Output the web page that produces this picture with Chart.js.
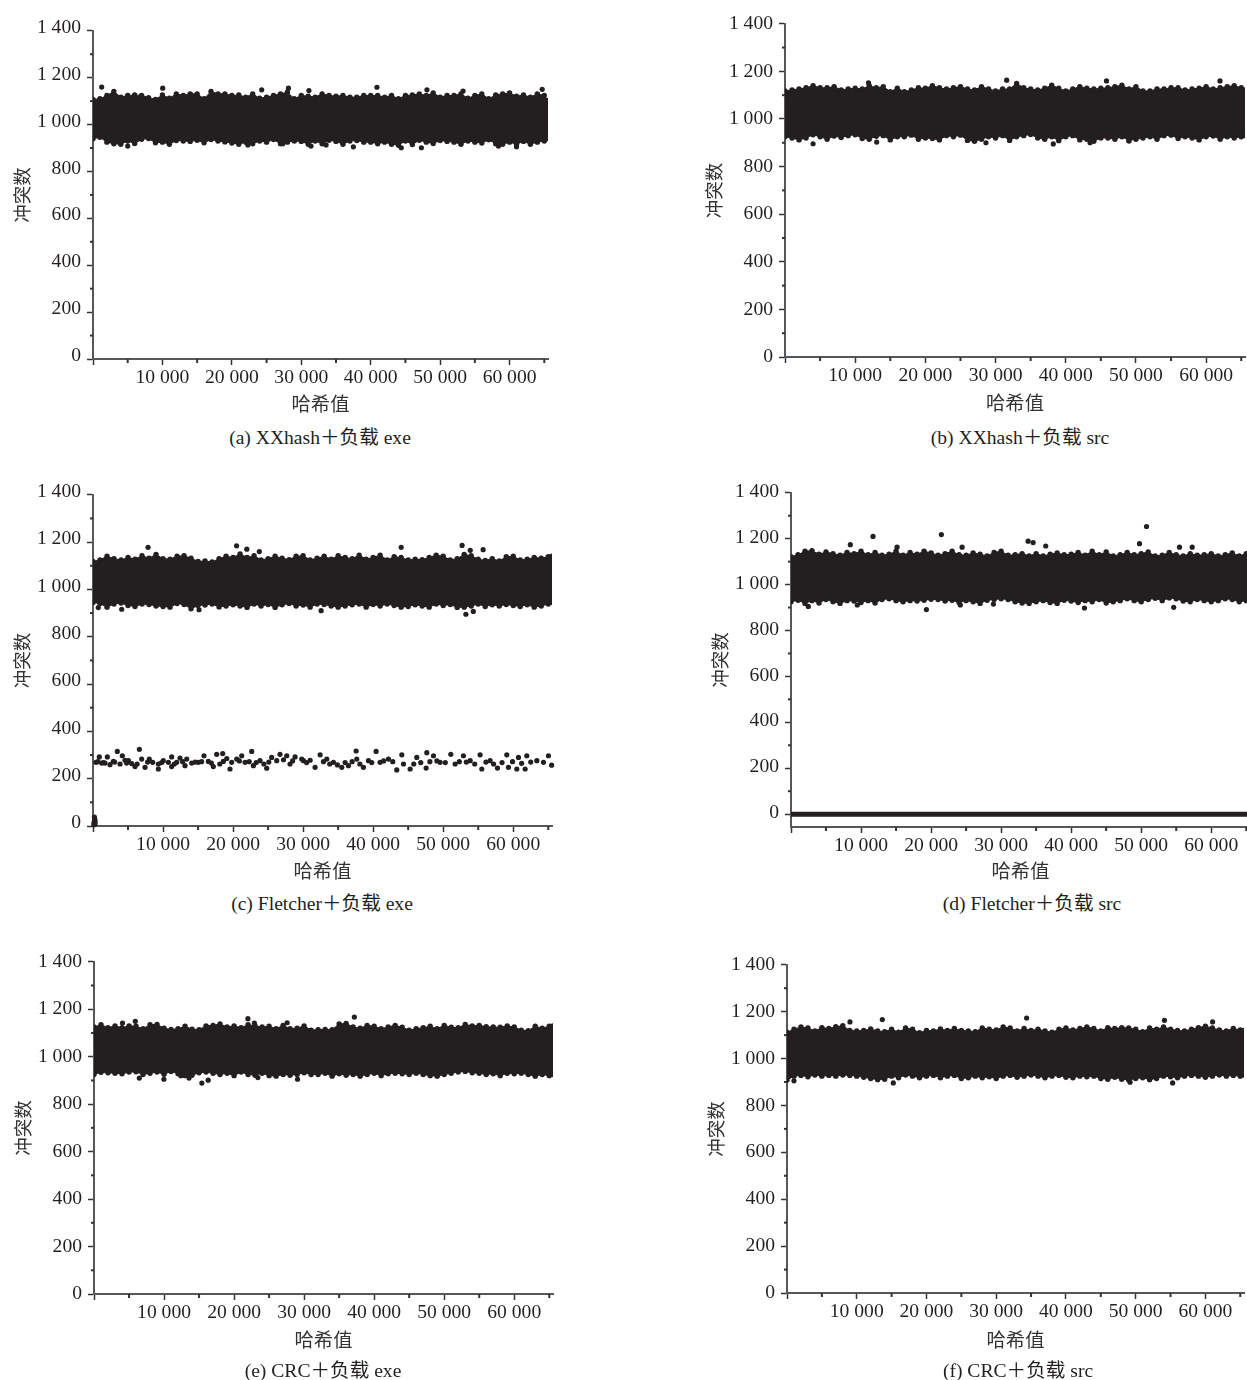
<!DOCTYPE html>
<html>
<head>
<meta charset="utf-8">
<script src="https://cdn.jsdelivr.net/npm/chart.js@4"></script>
<style>
  html, body { margin: 0; padding: 0; background: #fff; overflow: hidden; width: 1247px; height: 1380px; }
  canvas { position: absolute; }
  .cap { position: absolute; transform: translate(-50%, -50%); white-space: nowrap; color: #231f20;
         font: 19.6px "Liberation Serif", "Noto Sans CJK SC", serif; }
</style>
</head>
<body>
<script>
// shared axes
const y_ticks = [0, 200, 400, 600, 800, 1000, 1200, 1400];
const y_labels = ['0', '200', '400', '600', '800', '1 000', '1 200', '1 400'];
const y_minor = [100, 300, 500, 700, 900, 1100, 1300];
const x_ticks = [0, 10000, 20000, 30000, 40000, 50000, 60000];
const x_labels = ['', '10 000', '20 000', '30 000', '40 000', '50 000', '60 000'];
const x_minor = [5000, 15000, 25000, 35000, 45000, 55000, 65000];

// hash values where the band edges were read
const band_x = [
  0, 1000, 2000, 3000, 4000, 5000, 6000, 7000, 8000, 9000,
  10000, 11000, 12000, 13000, 14000, 15000, 16000, 17000, 18000, 19000,
  20000, 21000, 22000, 23000, 24000, 25000, 26000, 27000, 28000, 29000,
  30000, 31000, 32000, 33000, 34000, 35000, 36000, 37000, 38000, 39000,
  40000, 41000, 42000, 43000, 44000, 45000, 46000, 47000, 48000, 49000,
  50000, 51000, 52000, 53000, 54000, 55000, 56000, 57000, 58000, 59000,
  60000, 61000, 62000, 63000, 64000, 65000, 65535];

// (a) XXhash exe
const a_top = [
  1107, 1110, 1124, 1141, 1117, 1124, 1126, 1124, 1115, 1107,
  1126, 1112, 1131, 1124, 1131, 1131, 1110, 1141, 1131, 1131,
  1124, 1126, 1117, 1131, 1112, 1117, 1124, 1131, 1138, 1110,
  1124, 1121, 1117, 1131, 1124, 1121, 1124, 1117, 1117, 1124,
  1124, 1124, 1117, 1124, 1110, 1124, 1126, 1131, 1124, 1135,
  1117, 1124, 1124, 1131, 1112, 1124, 1131, 1110, 1126, 1131,
  1135, 1121, 1126, 1117, 1131, 1124, 1103];
const a_bot = [
  939, 946, 925, 918, 916, 930, 919, 937, 940, 922,
  925, 916, 932, 930, 928, 933, 922, 936, 930, 926,
  921, 916, 925, 918, 930, 925, 936, 918, 925, 930,
  928, 916, 930, 918, 933, 928, 916, 930, 932, 925,
  925, 918, 925, 916, 912, 930, 915, 933, 925, 919,
  932, 928, 925, 916, 930, 925, 921, 935, 918, 916,
  925, 916, 928, 916, 925, 930, 940];
const a_dots_x = [1250, 10040, 24300, 28150, 31100, 40900, 48100, 53300, 64700, 5000, 27340, 31400, 33570, 37500, 44400, 47300, 22300, 58400, 61000];
const a_dots_y = [1160, 1155, 1148, 1155, 1145, 1159, 1148, 1143, 1150, 908, 918, 908, 913, 905, 901, 901, 913, 908, 905];

// (b) XXhash src
const b_top = [
  1118, 1122, 1126, 1131, 1140, 1131, 1131, 1136, 1122, 1126,
  1129, 1126, 1140, 1131, 1136, 1115, 1129, 1115, 1122, 1131,
  1129, 1140, 1131, 1126, 1131, 1136, 1126, 1122, 1136, 1126,
  1118, 1126, 1126, 1149, 1131, 1126, 1122, 1129, 1142, 1129,
  1118, 1126, 1136, 1129, 1126, 1129, 1131, 1136, 1142, 1126,
  1136, 1118, 1118, 1126, 1126, 1131, 1131, 1122, 1126, 1129,
  1136, 1126, 1131, 1136, 1140, 1131, 1122];
const b_bot = [
  925, 920, 912, 920, 934, 925, 915, 928, 922, 930,
  934, 918, 915, 927, 930, 912, 925, 925, 932, 915,
  920, 918, 912, 930, 925, 932, 910, 906, 915, 925,
  920, 930, 910, 925, 930, 935, 920, 915, 925, 909,
  925, 930, 912, 915, 906, 920, 920, 915, 925, 910,
  915, 920, 925, 915, 930, 932, 918, 925, 920, 912,
  925, 928, 915, 925, 920, 925, 930];
const b_dots_x = [31580, 45800, 61970, 11900, 4000, 13060, 28630, 38220, 49000, 43460];
const b_dots_y = [1163, 1160, 1160, 1152, 896, 903, 900, 895, 907, 900];

// (c) Fletcher exe
const c_top = [
  1118, 1125, 1140, 1130, 1124, 1135, 1128, 1142, 1132, 1148,
  1130, 1128, 1140, 1142, 1132, 1118, 1120, 1116, 1130, 1140,
  1135, 1150, 1135, 1142, 1125, 1130, 1140, 1132, 1126, 1140,
  1142, 1125, 1132, 1140, 1128, 1142, 1135, 1130, 1145, 1128,
  1135, 1145, 1125, 1138, 1135, 1124, 1128, 1126, 1135, 1145,
  1140, 1125, 1130, 1148, 1142, 1128, 1122, 1130, 1120, 1138,
  1140, 1124, 1128, 1135, 1132, 1138, 1140];
const c_bot = [
  945, 940, 925, 938, 942, 932, 928, 938, 936, 930,
  928, 925, 940, 936, 918, 932, 934, 938, 926, 930,
  935, 930, 924, 938, 930, 936, 924, 935, 940, 930,
  934, 925, 938, 936, 930, 925, 930, 935, 938, 925,
  936, 930, 938, 932, 925, 928, 935, 930, 925, 938,
  932, 936, 924, 925, 930, 938, 928, 935, 930, 936,
  932, 928, 935, 925, 930, 938, 945];
const c_dots_x = [7860, 20500, 21960, 23750, 44000, 52700, 53860, 55700, 750, 4100, 15140, 32570, 53240, 54300];
const c_dots_y = [1178, 1184, 1170, 1160, 1178, 1186, 1165, 1168, 923, 916, 914, 910, 895, 907];
// low cluster around 270 and the few points next to zero
const c_low_x = [
  430, 900, 1240, 1710, 2050, 2430, 2900, 3470, 3860, 4190,
  4570, 5050, 5520, 6000, 6620, 6950, 7430, 8040, 8520, 9330,
  9330, 10040, 10760, 11230, 11230, 11950, 12420, 13140, 13380, 14090,
  15040, 15850, 16470, 17180, 17660, 18520, 18610, 19560, 19800, 20520,
  21230, 21710, 22660, 22900, 23850, 24800, 25510, 26230, 26700, 27660,
  28130, 28850, 29800, 30050, 31000, 31710, 32430, 33380, 34330, 35520,
  36470, 37570, 37660, 38610, 39330, 40420, 40990, 42180, 43370, 44090,
  44330, 45280, 46230, 47560, 47660, 48610, 49560, 51090, 51700, 52890,
  53850, 55270, 55510, 56700, 57750, 59080, 59320, 60510, 60750, 61700,
  61940, 63370, 64320, 65030, 65480, 700, 1500, 3100, 4800, 6300,
  7800, 9800, 11600, 12800, 14600, 15500, 16900, 18100, 19100, 20900,
  22300, 23300, 24400, 25100, 27200, 28500, 30500, 32900, 33800, 34900,
  36000, 37000, 38100, 39800, 41500, 42800, 45800, 46800, 48100, 49100,
  50300, 52300, 53300, 54500, 56100, 57200, 58400, 59900, 61200, 62500,
  150, 250, 300, 120, 300, 200];
const c_low_y = [
  269, 292, 266, 266, 292, 259, 273, 315, 262, 297,
  278, 276, 264, 251, 324, 283, 248, 283, 269, 241,
  262, 276, 269, 251, 292, 269, 287, 255, 283, 266,
  269, 297, 273, 251, 303, 306, 273, 241, 269, 283,
  297, 269, 315, 255, 276, 244, 290, 276, 303, 297,
  262, 292, 283, 276, 278, 248, 301, 283, 269, 248,
  255, 317, 283, 248, 276, 315, 269, 283, 237, 301,
  262, 241, 290, 245, 310, 297, 269, 303, 262, 297,
  276, 301, 241, 276, 245, 301, 248, 241, 290, 241,
  297, 276, 269, 297, 257, 272, 268, 270, 266, 262,
  270, 268, 262, 272, 270, 272, 266, 262, 285, 275,
  272, 268, 262, 270, 280, 275, 268, 272, 262, 258,
  268, 272, 262, 268, 275, 272, 262, 268, 272, 275,
  268, 272, 270, 262, 270, 262, 268, 272, 265, 270,
  15, 30, 8, 5, 20, 38];

// (d) Fletcher src
const d_top = [
  1122, 1130, 1145, 1148, 1132, 1142, 1135, 1128, 1140, 1135,
  1145, 1130, 1140, 1128, 1132, 1145, 1128, 1140, 1132, 1145,
  1138, 1128, 1135, 1145, 1130, 1128, 1138, 1132, 1125, 1140,
  1145, 1128, 1130, 1135, 1125, 1135, 1125, 1132, 1138, 1130,
  1132, 1140, 1128, 1145, 1130, 1142, 1125, 1130, 1140, 1130,
  1135, 1142, 1125, 1128, 1140, 1130, 1125, 1135, 1128, 1130,
  1135, 1125, 1130, 1138, 1125, 1135, 1145];
const d_bot = [
  925, 932, 918, 930, 920, 935, 925, 918, 930, 928,
  922, 930, 920, 935, 938, 930, 925, 930, 928, 932,
  936, 935, 928, 932, 922, 930, 925, 918, 932, 935,
  938, 935, 925, 920, 918, 925, 930, 922, 918, 932,
  928, 922, 930, 925, 935, 920, 925, 930, 938, 930,
  925, 935, 940, 930, 942, 938, 928, 925, 935, 930,
  925, 930, 938, 935, 925, 930, 920];
const d_dots_x = [8470, 11710, 21470, 33860, 34570, 36370, 49760, 50760, 57280, 55470, 24430, 15140, 19330, 41900, 54640, 2470, 9470, 28900, 24180];
const d_dots_y = [1174, 1210, 1218, 1189, 1183, 1168, 1178, 1253, 1163, 1163, 1163, 1163, 891, 898, 901, 905, 911, 915, 911];
const d_zero_x = [0, 65535];
const d_zero_y = [0, 0];

// (e) CRC exe
const e_top = [
  1125, 1135, 1122, 1130, 1122, 1130, 1128, 1118, 1135, 1136,
  1120, 1115, 1118, 1128, 1116, 1114, 1130, 1132, 1138, 1125,
  1130, 1122, 1135, 1130, 1125, 1128, 1118, 1132, 1118, 1120,
  1130, 1112, 1114, 1115, 1114, 1138, 1140, 1125, 1120, 1132,
  1128, 1118, 1125, 1132, 1124, 1112, 1118, 1122, 1128, 1118,
  1132, 1124, 1122, 1136, 1130, 1132, 1126, 1125, 1124, 1130,
  1125, 1112, 1110, 1128, 1120, 1128, 1130];
const e_bot = [
  925, 934, 932, 930, 928, 935, 936, 925, 930, 935,
  926, 938, 928, 920, 922, 932, 935, 930, 925, 930,
  920, 935, 925, 922, 930, 920, 918, 925, 922, 925,
  932, 925, 925, 930, 918, 928, 922, 925, 918, 925,
  930, 920, 928, 930, 928, 925, 930, 925, 920, 918,
  925, 930, 935, 938, 932, 930, 925, 928, 920, 930,
  928, 930, 925, 918, 925, 920, 925];
const e_dots_x = [4070, 5900, 21970, 22900, 27580, 37170, 6470, 9980, 15400, 16300, 23400, 29060, 12400, 13570];
const e_dots_y = [1142, 1149, 1160, 1142, 1143, 1167, 910, 905, 889, 901, 912, 905, 920, 910];

// (f) CRC src
const f_top = [
  1112, 1125, 1135, 1130, 1118, 1132, 1128, 1136, 1140, 1120,
  1118, 1120, 1126, 1118, 1115, 1125, 1112, 1130, 1125, 1110,
  1120, 1118, 1126, 1120, 1128, 1120, 1118, 1115, 1130, 1125,
  1122, 1135, 1130, 1118, 1128, 1120, 1125, 1118, 1112, 1125,
  1130, 1122, 1128, 1135, 1128, 1118, 1132, 1128, 1132, 1130,
  1125, 1115, 1130, 1125, 1135, 1125, 1120, 1118, 1125, 1132,
  1138, 1130, 1122, 1118, 1128, 1122, 1120];
const f_bot = [
  908, 925, 928, 922, 930, 925, 928, 925, 930, 928,
  925, 920, 915, 910, 912, 925, 918, 930, 925, 918,
  925, 928, 918, 925, 928, 915, 918, 925, 918, 922,
  915, 925, 928, 920, 925, 930, 925, 918, 925, 928,
  920, 918, 925, 922, 925, 915, 912, 920, 912, 908,
  915, 918, 910, 915, 925, 922, 918, 925, 928, 925,
  920, 925, 930, 925, 928, 925, 930];
const f_dots_x = [13670, 34360, 9030, 61030, 54130, 15240, 49200, 55300, 1000];
const f_dots_y = [1166, 1173, 1156, 1156, 1163, 896, 899, 896, 905];

const INK = '#231f20';
const AXIS = '#55585a';
const FONT = '"Liberation Serif", "Noto Sans CJK SC", serif';
const EDGE_CLIP = { left: 0, right: 0, top: false, bottom: false };

function pts(xs, ys) {
  return xs.map((x, i) => ({ x: x, y: ys[i] }));
}

// the small unlabelled ticks
const minorTicks = {
  id: 'minorTicks',
  afterDraw(chart) {
    const c = chart.ctx, xs = chart.scales.x, ys = chart.scales.y;
    c.save();
    c.fillStyle = '#333';
    y_minor.forEach(v => c.fillRect(xs.left - 3, ys.getPixelForValue(v) - 1, 3, 2));
    x_minor.forEach(v => c.fillRect(xs.getPixelForValue(v) - 1, ys.bottom, 2, 4));
    c.restore();
  }
};

function drawPanel(p) {
  const cv = document.createElement('canvas');
  const w = 80 + p.right - p.ax + 12;
  const h = 14 + p.bottom - p.top + p.xh;
  cv.width = w;
  cv.height = h;
  cv.style.left = (p.ax - 80) + 'px';
  cv.style.top = (p.top - 14) + 'px';
  cv.style.width = w + 'px';
  cv.style.height = h + 'px';
  document.body.appendChild(cv);

  const sets = [
    { data: pts(band_x, p.hi), showLine: true, tension: 0, fill: '+1', backgroundColor: INK, borderColor: INK,
      borderWidth: 1, pointRadius: 2.7, pointBackgroundColor: INK, pointBorderWidth: 0, clip: EDGE_CLIP },
    { data: pts(band_x, p.lo), showLine: true, tension: 0, borderColor: INK,
      borderWidth: 1, pointRadius: 2.7, pointBackgroundColor: INK, pointBorderWidth: 0, clip: EDGE_CLIP },
    { data: pts(p.dx, p.dy), pointRadius: 2.6, backgroundColor: INK, borderWidth: 0, clip: false }
  ];
  if (p.lowx) sets.push({ data: pts(p.lowx, p.lowy), pointRadius: 2.6, backgroundColor: INK, borderWidth: 0, clip: false });
  if (p.zx) sets.push({ data: pts(p.zx, p.zy), showLine: true, borderColor: INK, borderWidth: 5, pointRadius: 0, clip: false });

  new Chart(cv, {
    type: 'scatter',
    data: { datasets: sets },
    plugins: [minorTicks],
    options: {
      responsive: false,
      animation: false,
      layout: { autoPadding: false, padding: { top: 14, right: 12, left: 0, bottom: 0 } },
      plugins: { legend: { display: false }, tooltip: { enabled: false } },
      scales: {
        x: {
          type: 'linear', min: 0, max: 65535,
          afterBuildTicks: s => { s.ticks = x_ticks.map(v => ({ value: v })); },
          afterFit: s => { s.height = p.xh; },
          border: { color: AXIS, width: 2 },
          grid: { drawOnChartArea: false, tickLength: 6, tickColor: '#333', tickWidth: 1.5 },
          ticks: { autoSkip: false, maxRotation: 0, padding: 1, color: INK,
            font: { family: FONT, size: 19.6 },
            callback: v => x_labels[x_ticks.indexOf(v)] },
          title: { display: true, text: '哈希值', color: '#333', padding: 0, font: { family: FONT, size: 19.3 } }
        },
        y: {
          type: 'linear', min: p.ymin, max: 1400,
          afterBuildTicks: s => { s.ticks = y_ticks.map(v => ({ value: v })); },
          afterFit: s => { s.width = 80; },
          border: { color: AXIS, width: 2 },
          grid: { drawOnChartArea: false, tickLength: 6, tickColor: '#333', tickWidth: 1.5 },
          ticks: { autoSkip: false, padding: 6, color: INK, labelOffset: p.lab,
            font: { family: FONT, size: 19.6 },
            callback: v => y_labels[y_ticks.indexOf(v)] },
          title: { display: true, text: '冲突数', color: '#333', padding: 0, font: { family: FONT, size: 18.5 } }
        }
      }
    }
  });

  const cap = document.createElement('div');
  cap.className = 'cap';
  cap.textContent = p.cap;
  cap.style.left = p.capx + 'px';
  cap.style.top = p.capy + 'px';
  document.body.appendChild(cap);
}

[
  { ax: 93, right: 548, top: 26.5, bottom: 358.5, xh: 59, ymin: 0, lab: -3, hi: a_top, lo: a_bot, dx: a_dots_x, dy: a_dots_y,
    cap: '(a) XXhash＋负载 exe', capx: 320, capy: 435 },
  { ax: 785, right: 1245, top: 20, bottom: 357, xh: 60, ymin: 0, lab: 0, hi: b_top, lo: b_bot, dx: b_dots_x, dy: b_dots_y,
    cap: '(b) XXhash＋负载 src', capx: 1020, capy: 435 },
  { ax: 93, right: 552, top: 491, bottom: 826, xh: 59, ymin: 0, lab: -3, hi: c_top, lo: c_bot, dx: c_dots_x, dy: c_dots_y,
    lowx: c_low_x, lowy: c_low_y, cap: '(c) Fletcher＋负载 exe', capx: 322, capy: 901 },
  { ax: 790.7, right: 1249.7, top: 489, bottom: 827, xh: 58, ymin: -56, lab: -1, hi: d_top, lo: d_bot, dx: d_dots_x, dy: d_dots_y,
    zx: d_zero_x, zy: d_zero_y, cap: '(d) Fletcher＋负载 src', capx: 1032, capy: 901 },
  { ax: 94, right: 553, top: 958, bottom: 1294, xh: 60, ymin: 0, lab: 0, hi: e_top, lo: e_bot, dx: e_dots_x, dy: e_dots_y,
    cap: '(e) CRC＋负载 exe', capx: 323, capy: 1368 },
  { ax: 787, right: 1244, top: 961, bottom: 1293, xh: 61, ymin: 0, lab: 0, hi: f_top, lo: f_bot, dx: f_dots_x, dy: f_dots_y,
    cap: '(f) CRC＋负载 src', capx: 1018, capy: 1368 }
].forEach(drawPanel);
</script>
</body>
</html>
